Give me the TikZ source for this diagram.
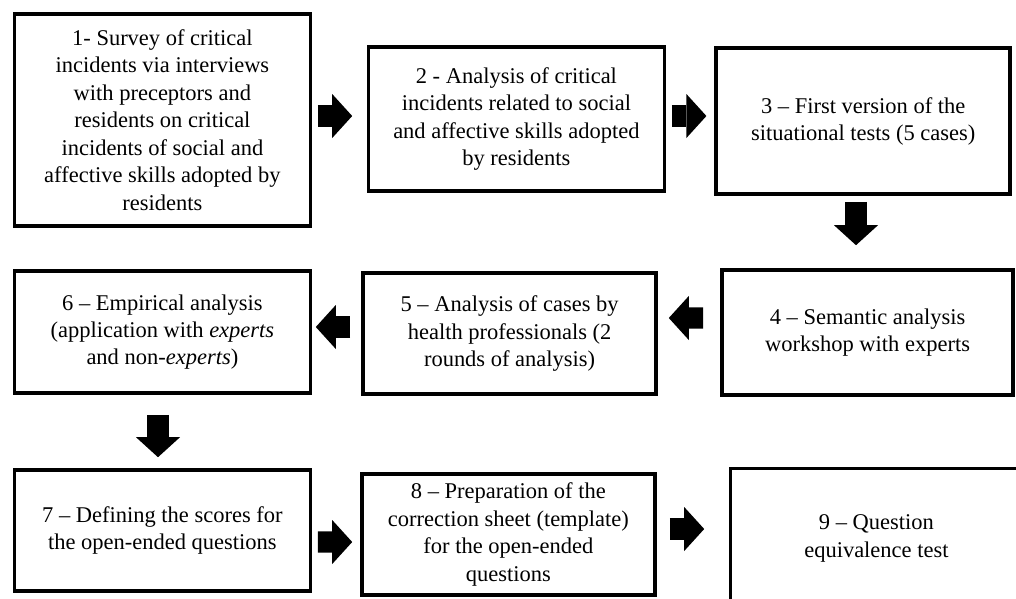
\documentclass[tikz,border=0pt]{standalone}
\usepackage{fontspec}
\setmainfont{Liberation Serif}
\usetikzlibrary{arrows.meta}

\tikzset{
  box/.style={draw, line width=0.09cm, align=center, inner sep=2pt,
    font=\fontsize{16}{19.5}\selectfont},
  flow/.style={line width=0.53cm,
    -{Triangle[length=0.5cm,width=1.1cm,line width=0pt]}}
}

\begin{document}
\begin{tikzpicture}
  \begin{scope}
    \clip (0,0) rectangle (25.4,-14.95);

    \node [box, minimum width=7.4cm, minimum height=5.3cm] (b1) at (4.06,-3.0)
      {1- Survey of critical\\incidents via interviews\\with preceptors and\\residents on critical\\incidents of social and\\affective skills adopted by\\residents};
    \node [box, minimum width=7.4cm, minimum height=3.6cm] (b2) at (12.91,-2.98)
      {2 - Analysis of critical\\incidents related to social\\and affective skills adopted\\by residents};
    \node [box, minimum width=7.35cm, minimum height=3.65cm] (b3) at (21.58,-3.03)
      {3 -- First version of the\\situational tests (5 cases)};
    \node [box, minimum width=7.28cm, minimum height=3.13cm] (b4) at (21.69,-8.31)
      {4 -- Semantic analysis\\workshop with experts};
    \node [box, minimum width=7.33cm, minimum height=3.03cm] (b5) at (12.74,-8.34)
      {5 -- Analysis of cases by\\health professionals (2\\rounds of analysis)};
    \node [box, minimum width=7.4cm, minimum height=3.05cm] (b6) at (4.06,-8.3)
      {6 -- Empirical analysis\\(application with \textit{experts}\\and non-\textit{experts})};
    \node [box, minimum width=7.4cm, minimum height=3.03cm] (b7) at (4.06,-13.26)
      {7 -- Defining the scores for\\the open-ended questions};
    \node [box, minimum width=7.33cm, minimum height=3.03cm] (b8) at (12.71,-13.36)
      {8 -- Preparation of the\\correction sheet (template)\\for the open-ended\\questions};
    \node [box, minimum width=7.3cm, minimum height=3.5cm] (b9) at (21.91,-13.46)
      {9 -- Question\\equivalence test};

    \draw [flow] ([xshift=0.14cm,yshift=0.1cm]b1.east) -- ([xshift=-0.36cm,yshift=0.08cm]b2.west);
    \draw [flow] ([xshift=0.14cm,yshift=0.08cm]b2.east) -- ([xshift=-0.2cm,yshift=0.13cm]b3.west);
    \draw [flow] ([xshift=-0.18cm,yshift=-0.145cm]b3.south) -- ([xshift=-0.29cm,yshift=0.57cm]b4.north);
    \draw [flow] ([xshift=-0.425cm,yshift=0.36cm]b4.west) -- ([xshift=0.27cm,yshift=0.39cm]b5.east);
    \draw [flow] ([xshift=-0.275cm,yshift=0.165cm]b5.west) -- ([xshift=0.09cm,yshift=0.125cm]b6.east);
    \draw [flow] ([xshift=-0.11cm,yshift=-0.5cm]b6.south) -- ([xshift=-0.11cm,yshift=0.27cm]b7.north);
    \draw [flow] ([xshift=0.14cm,yshift=-0.29cm]b7.east) -- ([xshift=-0.195cm,yshift=-0.19cm]b8.west);
    \draw [flow] ([xshift=0.325cm,yshift=0.135cm]b8.east) -- ([xshift=-0.61cm,yshift=0.235cm]b9.west);
  \end{scope}
\end{tikzpicture}
\end{document}
